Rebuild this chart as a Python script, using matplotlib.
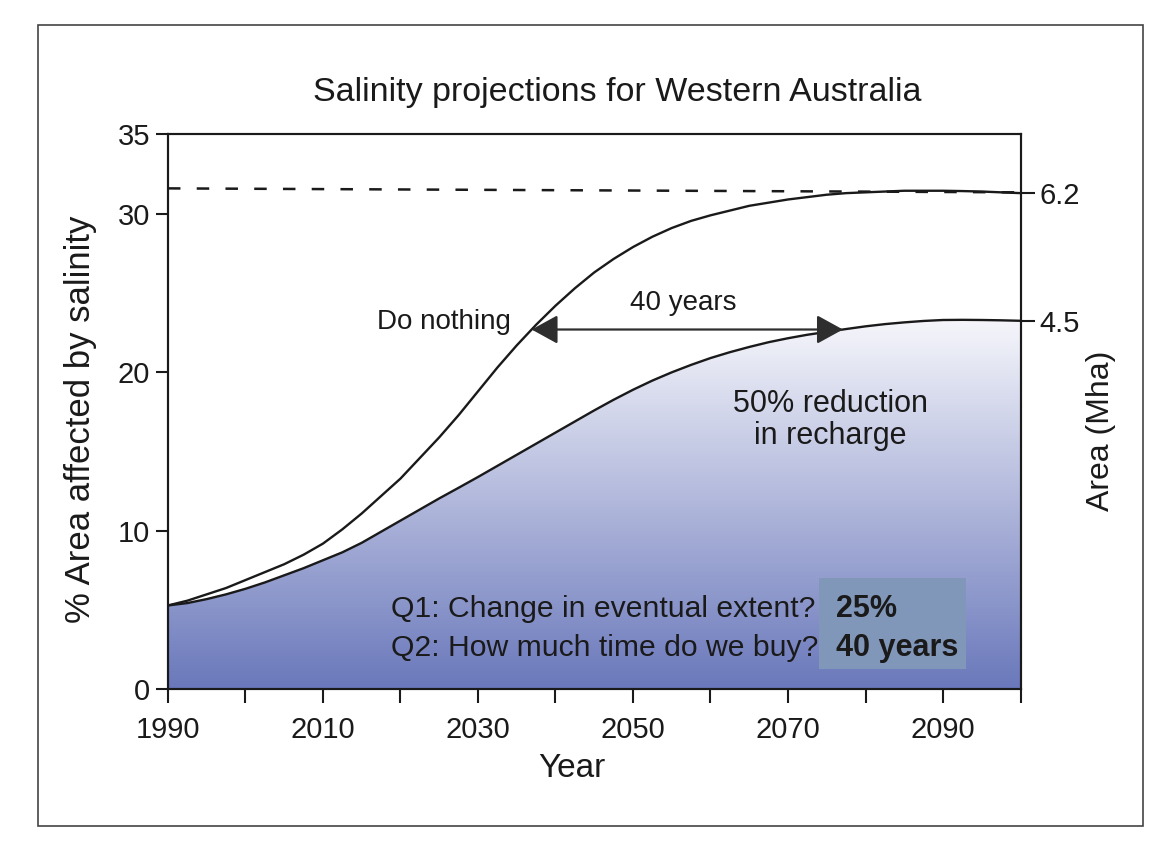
import numpy as np
import matplotlib.pyplot as plt
from matplotlib.patches import Rectangle
from matplotlib.colors import to_rgb

plt.rcParams['font.family'] = ['Liberation Sans', 'DejaVu Sans']

# Salinity projections, % of area affected (every 2.5 years)
years = [1990, 1992.5, 1995, 1997.5, 2000, 2002.5, 2005, 2007.5, 2010, 2012.5,
         2015, 2017.5, 2020, 2022.5, 2025, 2027.5, 2030, 2032.5, 2035, 2037.5,
         2040, 2042.5, 2045, 2047.5, 2050, 2052.5, 2055, 2057.5, 2060, 2062.5,
         2065, 2067.5, 2070, 2072.5, 2075, 2077.5, 2080, 2082.5, 2085, 2087.5,
         2090, 2092.5, 2095, 2097.5, 2100]
do_nothing = [5.3, 5.6, 6.0, 6.4, 6.9, 7.4, 7.9, 8.5, 9.2, 10.1,
              11.1, 12.2, 13.3, 14.6, 15.9, 17.3, 18.8, 20.3, 21.7, 23.0,
              24.2, 25.3, 26.3, 27.15, 27.9, 28.55, 29.1, 29.55, 29.9, 30.2,
              30.5, 30.7, 30.9, 31.05, 31.2, 31.3, 31.35, 31.4, 31.45, 31.45,
              31.45, 31.43, 31.4, 31.35, 31.3]
reduced_recharge = [5.3, 5.45, 5.7, 6.0, 6.35, 6.75, 7.2, 7.65, 8.15, 8.65,
                    9.25, 9.95, 10.65, 11.35, 12.05, 12.72, 13.4, 14.1, 14.8, 15.5,
                    16.2, 16.9, 17.6, 18.27, 18.9, 19.48, 20.0, 20.47, 20.9, 21.27,
                    21.6, 21.9, 22.15, 22.37, 22.55, 22.73, 22.9, 23.04, 23.15, 23.24,
                    23.3, 23.31, 23.3, 23.28, 23.25]

# dashed upper limit
limit_years = [1990, 2100]
limit_pct = [31.6, 31.35]

xtick_years = list(range(1990, 2101, 10))
xtick_labels = ['1990', '', '2010', '', '2030', '', '2050', '', '2070', '', '2090', '']
ytick_pct = [0, 10, 20, 30, 35]
area_labels = ['6.2', '4.5']  # Mha at 2100

arrow_pct = 22.7
questions = ['Q1: Change in eventual extent?', 'Q2: How much time do we buy?']
answers = ['25%', '40 years']
question_pct = [5.05, 2.6]

ink = '#1a1a1a'

fig = plt.figure(figsize=(11.56, 8.43), dpi=100)
ax = fig.add_axes([0.1453, 0.1821, 0.7375, 0.6584])
ax.set_xlim(1990, 2100)
ax.set_ylim(0, 35)

# gradient fill under the reduced recharge curve
poly = ax.fill_between(years, reduced_recharge, 0, facecolor='none', edgecolor='none')
c_lo = np.array(to_rgb('#6a78bb'))
c_hi = np.array(to_rgb('#fafafd'))
t = np.linspace(0, 1, 256)[:, None]
grad = (c_lo * (1 - t) + c_hi * t)[:, None, :]
im = ax.imshow(grad, extent=[1990, 2100, 0, 24], origin='lower', aspect='auto', zorder=1)
im.set_clip_path(poly.get_paths()[0], transform=ax.transData)
ax.set_xlim(1990, 2100)
ax.set_ylim(0, 35)

ax.plot(years, do_nothing, color=ink, lw=1.7, zorder=3)
ax.plot(years, reduced_recharge, color=ink, lw=1.7, zorder=3)
ax.plot(limit_years, limit_pct, color=ink, lw=1.8, dashes=(5, 6.5), zorder=3)

# 40-year gap between the two curves
k = years.index(2080)
x_start = np.interp(arrow_pct, do_nothing[:k], years[:k])
x_end = np.interp(arrow_pct, reduced_recharge[:k], years[:k])
ax.annotate('', xy=(x_end, arrow_pct), xytext=(x_start, arrow_pct),
            arrowprops=dict(arrowstyle='<|-|>,head_length=0.6,head_width=0.33',
                            mutation_scale=27, color='#2e2e2e', lw=1.6,
                            shrinkA=0, shrinkB=0), zorder=4)
ax.text((x_start + x_end) / 2 - 0.5, 24.4, '40 years', fontsize=20, color=ink,
        ha='center', va='center')
ax.text(2034.3, 23.2, 'Do nothing', fontsize=20, color=ink, ha='right', va='center')
ax.text(2075.5, 17.0, '50% reduction\nin recharge', fontsize=22, color=ink,
        ha='center', va='center', multialignment='center', linespacing=1.1)

ax.add_patch(Rectangle((2074, 1.3), 19, 5.7, facecolor='#8197ba', edgecolor='none', zorder=3))
for q, a, y in zip(questions, answers, question_pct):
    ax.text(2018.8, y, q, fontsize=21.7, color=ink, ha='left', va='center', zorder=4)
    ax.text(2076.2, y, a, fontsize=22, color=ink, fontweight='bold',
            ha='left', va='center', zorder=4)

ax.set_xticks(xtick_years)
ax.set_xticklabels(xtick_labels)
ax.set_yticks(ytick_pct)
ax.tick_params(axis='x', direction='out', length=10, width=1.5, pad=9,
               labelsize=21, colors=ink)
ax.tick_params(axis='y', direction='out', length=9, width=1.5, pad=4,
               labelsize=21, colors=ink)
for s in ax.spines.values():
    s.set_linewidth(1.5)
    s.set_color(ink)

# right axis: area in Mha at the end of each projection
ax2 = ax.twinx()
ax2.set_ylim(0, 35)
ax2.set_yticks([do_nothing[-1], reduced_recharge[-1]])
ax2.set_yticklabels(area_labels)
ax2.tick_params(axis='y', direction='out', length=10, width=1.5, pad=3.5,
                labelsize=21, colors=ink)
for s in ax2.spines.values():
    s.set_linewidth(1.5)
    s.set_color(ink)

ax.text(0.527, 1.075, 'Salinity projections for Western Australia', transform=ax.transAxes,
        fontsize=24.5, color=ink, ha='center', va='center')
ax.text(-0.103, 0.487, '% Area affected by salinity', transform=ax.transAxes,
        fontsize=25, color=ink, ha='center', va='center', rotation=90)
ax.text(1.0945, 0.466, 'Area (Mha)', transform=ax.transAxes,
        fontsize=23, color=ink, ha='center', va='center', rotation=90)
ax.text(0.474, -0.143, 'Year', transform=ax.transAxes,
        fontsize=24, color=ink, ha='center', va='center')

# page frame
fig.patches.append(Rectangle((0.033, 0.02), 0.956, 0.95, transform=fig.transFigure,
                             fill=False, edgecolor='#444444', lw=1.2))

fig.savefig('out.png', dpi=100)
